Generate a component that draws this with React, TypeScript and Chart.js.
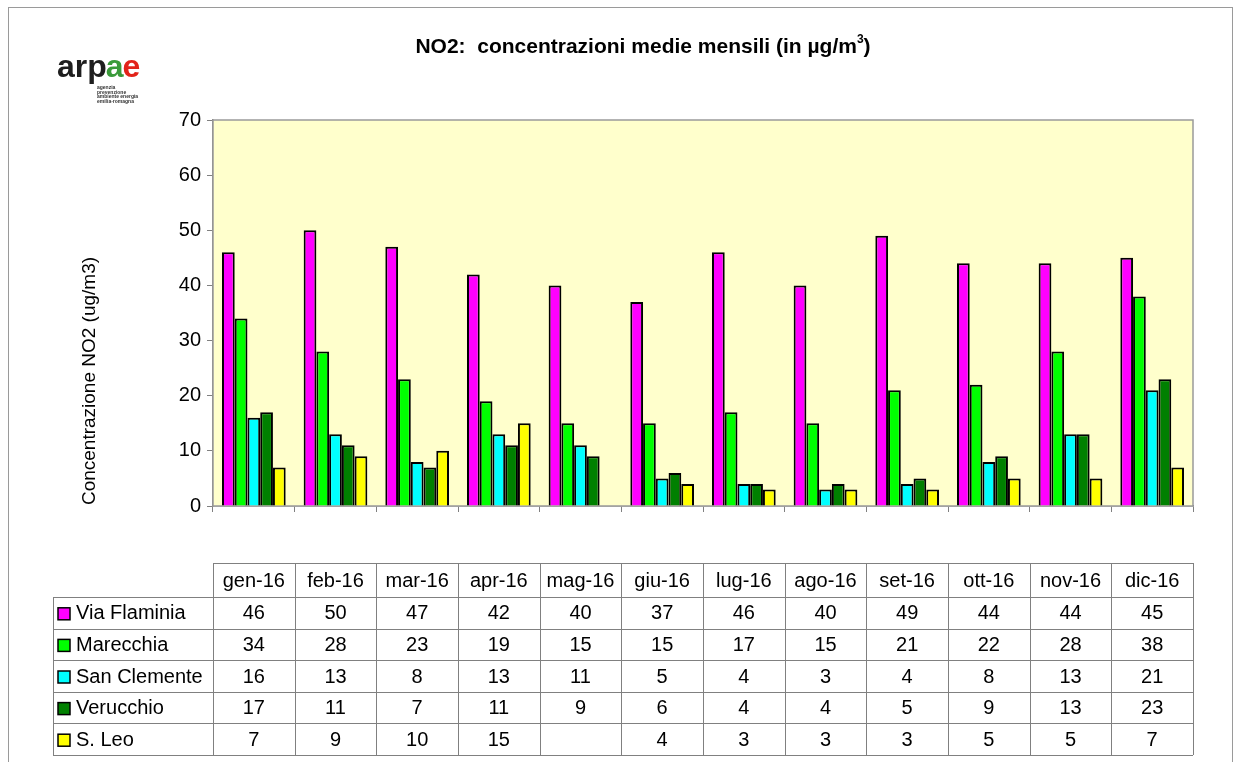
import React, { useEffect, useRef } from "react";
import { Chart, registerables } from "chart.js";

Chart.register(...registerables);

const months = ["gen-16", "feb-16", "mar-16", "apr-16", "mag-16", "giu-16", "lug-16", "ago-16", "set-16", "ott-16", "nov-16", "dic-16"];
const stations = ["Via Flaminia", "Marecchia", "San Clemente", "Verucchio", "S. Leo"];
const viaFlaminia = [46, 50, 47, 42, 40, 37, 46, 40, 49, 44, 44, 45];
const marecchia = [34, 28, 23, 19, 15, 15, 17, 15, 21, 22, 28, 38];
const sanClemente = [16, 13, 8, 13, 11, 5, 4, 3, 4, 8, 13, 21];
const verucchio = [17, 11, 7, 11, 9, 6, 4, 4, 5, 9, 13, 23];
const sLeo: (number | null)[] = [7, 9, 10, 15, null, 4, 3, 3, 3, 5, 5, 7];
const yTicks = [0, 10, 20, 30, 40, 50, 60, 70];
const colors = ["#FF00FF", "#00FF00", "#00FFFF", "#008000", "#FFFF00"];

const FONT = '"Liberation Sans", Arial, sans-serif';

const decorPlugin = {
  id: "decor",
  beforeDatasetsDraw(chart: any) {
    const { ctx, chartArea: a } = chart;
    ctx.save();
    ctx.fillStyle = "#FFFFCC";
    ctx.fillRect(a.left, a.top, a.right - a.left, a.bottom - a.top);
    ctx.strokeStyle = "#9a9a9a";
    ctx.lineWidth = 1.5;
    ctx.strokeRect(a.left, a.top, a.right - a.left, a.bottom - a.top);
    ctx.restore();
  },
  afterDraw(chart: any) {
    const { ctx, chartArea: a } = chart;
    const xs = chart.scales.x;
    ctx.save();
    // outer frame
    ctx.strokeStyle = "#9a9a9a";
    ctx.lineWidth = 1;
    ctx.strokeRect(8.5, 7.5, 1224, 770);

    // title
    ctx.fillStyle = "#000";
    ctx.textBaseline = "alphabetic";
    const tMain = "NO2:  concentrazioni medie mensili (in \u00b5g/m";
    ctx.font = `bold 21px ${FONT}`;
    const w1 = ctx.measureText(tMain).width;
    ctx.font = `bold 12px ${FONT}`;
    const w2 = ctx.measureText("3").width;
    ctx.font = `bold 21px ${FONT}`;
    const w3 = ctx.measureText(")").width;
    const total = w1 + w2 + w3;
    const tx = 643 - total / 2;
    const ty = 53;
    ctx.textAlign = "left";
    ctx.fillText(tMain, tx, ty);
    ctx.font = `bold 12px ${FONT}`;
    ctx.fillText("3", tx + w1, ty - 10);
    ctx.font = `bold 21px ${FONT}`;
    ctx.fillText(")", tx + w1 + w2, ty);

    // logo
    ctx.font = `bold 32px ${FONT}`;
    let lx = 57;
    const ly = 77;
    const parts: [string, string][] = [["arp", "#1e1e1e"], ["a", "#3a9b3a"], ["e", "#e2231a"]];
    for (const [s, c] of parts) {
      ctx.fillStyle = c;
      ctx.fillText(s, lx, ly);
      lx += ctx.measureText(s).width - 1;
    }
    ctx.fillStyle = "#333";
    ctx.font = `bold 5px ${FONT}`;
    ["agenzia", "prevenzione", "ambiente energia", "emilia-romagna"].forEach((s, i) => {
      ctx.fillText(s, 97, 89 + i * 4.5);
    });

    // y axis title
    ctx.save();
    ctx.translate(90, 381);
    ctx.rotate(-Math.PI / 2);
    ctx.textAlign = "center";
    ctx.textBaseline = "middle";
    ctx.fillStyle = "#000";
    ctx.font = `19px ${FONT}`;
    ctx.fillText("Concentrazione NO2 (ug/m3)", 0, 0);
    ctx.restore();

    // data table
    const colW = (a.right - a.left) / months.length;
    const headTop = 563;
    const headBot = 597;
    const rowH = 31.6;
    const tableLeft = 53;
    const tableBot = headBot + rowH * stations.length;
    ctx.strokeStyle = "#808080";
    ctx.lineWidth = 1;
    ctx.beginPath();
    ctx.moveTo(a.left, headTop + 0.5);
    ctx.lineTo(a.right, headTop + 0.5);
    for (let r = 0; r <= stations.length; r++) {
      const y = Math.round(headBot + r * rowH) + 0.5;
      ctx.moveTo(tableLeft, y);
      ctx.lineTo(a.right, y);
    }
    for (let c = 0; c <= months.length; c++) {
      const x = Math.round(a.left + c * colW) + 0.5;
      ctx.moveTo(x, headTop);
      ctx.lineTo(x, tableBot);
    }
    ctx.moveTo(tableLeft + 0.5, headBot);
    ctx.lineTo(tableLeft + 0.5, tableBot);
    ctx.stroke();

    const series = chart.data.datasets;
    ctx.fillStyle = "#000";
    ctx.font = `20px ${FONT}`;
    ctx.textBaseline = "middle";
    ctx.textAlign = "center";
    months.forEach((m, i) => {
      const cx = xs.getPixelForValue(i);
      ctx.fillText(m, cx, (headTop + headBot) / 2 + 1);
    });
    series.forEach((ds: any, r: number) => {
      const yc = headBot + r * rowH + rowH / 2 + 1;
      ds.data.forEach((v: number | null, i: number) => {
        if (v === null || v === undefined) return;
        ctx.textAlign = "center";
        ctx.fillStyle = "#000";
        ctx.fillText(String(v), xs.getPixelForValue(i), yc);
      });
      ctx.fillStyle = ds.backgroundColor;
      ctx.fillRect(58, yc - 6, 12, 12);
      ctx.strokeStyle = "#000";
      ctx.lineWidth = 1.5;
      ctx.strokeRect(58, yc - 6, 12, 12);
      ctx.fillStyle = "#000";
      ctx.textAlign = "left";
      ctx.fillText(ds.label, 76, yc);
    });
    ctx.restore();
  },
};

export default function App() {
  const ref = useRef<HTMLCanvasElement | null>(null);
  useEffect(() => {
    if (!ref.current) return;
    const seriesData = [viaFlaminia, marecchia, sanClemente, verucchio, sLeo];
    const chart = new Chart(ref.current, {
      type: "bar",
      data: {
        labels: months,
        datasets: stations.map((s, i) => ({
          label: s,
          data: seriesData[i],
          backgroundColor: colors[i],
          borderColor: "#000",
          borderWidth: 2,
          categoryPercentage: 0.78,
          barPercentage: 1.0,
        })),
      },
      options: {
        responsive: false,
        animation: false,
        devicePixelRatio: 1,
        layout: { padding: { top: 120, right: 45, left: 0, bottom: 0 } },
        plugins: { legend: { display: false }, title: { display: false }, tooltip: { enabled: false } },
        scales: {
          x: {
            ticks: { display: false },
            grid: { display: true, drawOnChartArea: false, tickLength: 6, color: "#808080", offset: true },
            border: { display: true, color: "#808080", width: 1.5 },
            afterFit: (s: any) => { s.height = 256; },
          },
          y: {
            min: 0,
            max: 70,
            afterBuildTicks: (s: any) => { s.ticks = yTicks.map((v) => ({ value: v })); },
            ticks: { color: "#000", font: { size: 20, family: FONT }, padding: 6 },
            grid: { display: true, drawOnChartArea: false, tickLength: 6, color: "#808080" },
            border: { display: true, color: "#808080", width: 1.5 },
            afterFit: (s: any) => { s.width = 213; },
          },
        },
      },
      plugins: [decorPlugin],
    } as any);
    return () => chart.destroy();
  }, []);
  return (
    <div style={{ position: "absolute", left: 0, top: 0, width: 1238, height: 762, background: "#fff" }}>
      <canvas ref={ref} width={1238} height={762} style={{ display: "block", width: 1238, height: 762 }} />
    </div>
  );
}
